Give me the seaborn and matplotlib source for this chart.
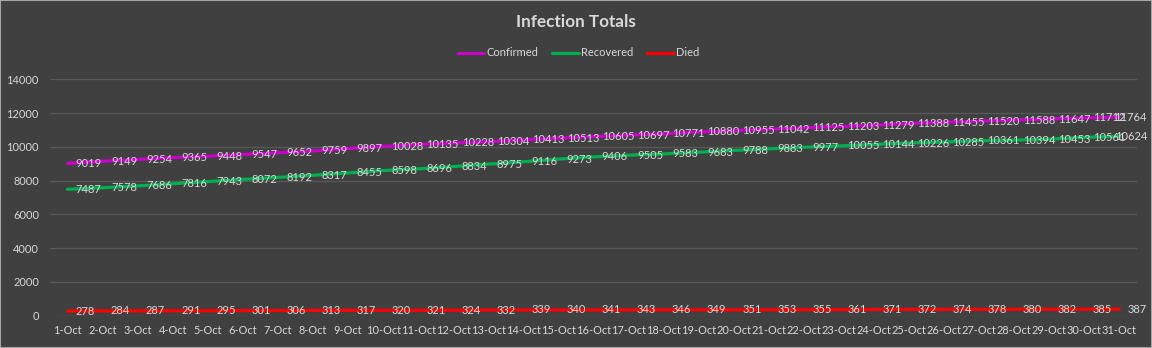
import numpy as np
import pandas as pd
import matplotlib
matplotlib.use("Agg")
import matplotlib.pyplot as plt
import matplotlib.transforms as mtransforms
import seaborn as sns
from matplotlib.lines import Line2D
from matplotlib.patches import Rectangle

days = [f"{d}-Oct" for d in range(1, 32)]
confirmed = [9019, 9149, 9254, 9365, 9448, 9547, 9652, 9759, 9897, 10028,
             10135, 10228, 10304, 10413, 10513, 10605, 10697, 10771, 10880, 10955,
             11042, 11125, 11203, 11279, 11388, 11455, 11520, 11588, 11647, 11712,
             11764]
recovered = [7487, 7578, 7686, 7816, 7943, 8072, 8192, 8317, 8455, 8598,
             8696, 8834, 8975, 9116, 9273, 9406, 9505, 9583, 9683, 9788,
             9883, 9977, 10055, 10144, 10226, 10285, 10361, 10394, 10453, 10561,
             10624]
died = [278, 284, 287, 291, 295, 301, 306, 313, 317, 320,
        321, 324, 332, 339, 340, 341, 343, 346, 349, 351,
        353, 355, 361, 371, 372, 374, 378, 380, 382, 385,
        387]
series_names = ["Confirmed", "Recovered", "Died"]
series_colors = ["#CC00CC", "#00B050", "#FF0000"]
yticks = [0, 2000, 4000, 6000, 8000, 10000, 12000, 14000]

bg = "#404040"
txt = "#D9D9D9"
grid = "#595959"
W, H = 1152, 348

sns.set_theme(style="dark")
plt.rcParams["font.family"] = ["Lato", "DejaVu Sans"]

frames = []
for name, vals in zip(series_names, [confirmed, recovered, died]):
    frames.append(pd.DataFrame({"pos": np.arange(len(days)), "day": days,
                                "value": vals, "series": name}))
df = pd.concat(frames, ignore_index=True)

fig = plt.figure(figsize=(W / 100, H / 100), dpi=100, facecolor=bg)
ax = fig.add_axes([50 / W, 1 - 315.7 / H, (1137 - 50) / W, (315.7 - 79.3) / H])
ax.set_facecolor(bg)

palette = dict(zip(series_names, series_colors))
sns.lineplot(data=df, x="pos", y="value", hue="series", palette=palette,
             hue_order=series_names, linewidth=2.3, ax=ax, legend=False)

# value labels to the right of each point; the last one is pulled back
# inside the chart's right edge
edge_tf = mtransforms.blended_transform_factory(fig.transFigure, ax.transData)
last = len(days) - 1
for name in series_names:
    sub = df[df["series"] == name]
    for x, y in zip(sub["pos"], sub["value"]):
        if x == last:
            ax.text(1147 / W, y, f"{y}", transform=edge_tf, ha="right",
                    va="center", fontsize=8, color=txt, clip_on=False)
        else:
            ax.annotate(f"{y}", (x, y), xytext=(6, 0), textcoords="offset points",
                        ha="left", va="center", fontsize=8, color=txt,
                        annotation_clip=False)

ax.set_xlim(-0.5, len(days) - 0.5)
ax.set_ylim(0, 14000)
ax.set_xticks(np.arange(len(days)))
ax.set_xticklabels(days)
ax.set_yticks(yticks)
ax.set_yticklabels([str(t) for t in yticks])
ax.tick_params(axis="both", length=0, colors=txt, labelsize=7.9)
ax.tick_params(axis="y", pad=8)
ax.tick_params(axis="x", pad=7)
ax.set_xlabel("")
ax.set_ylabel("")
ax.grid(False)
for t in yticks:
    ax.axhline(t, color=grid, linewidth=0.9, zorder=0)
for s in ax.spines.values():
    s.set_visible(False)

fig.text(0.5, 1 - 22 / H, "Infection Totals", ha="center", va="center",
         fontsize=12.3, fontweight="bold", color=txt)

handles = [Line2D([0], [0], color=c, linewidth=2.3) for c in series_colors]
fig.legend(handles, series_names, loc="center", ncol=3,
           bbox_to_anchor=(0.502, 1 - 53 / H), frameon=False,
           fontsize=8, handlelength=2.4, handletextpad=0.15,
           columnspacing=1.3, labelcolor=txt)

fig.patches.append(Rectangle((0, 0), 1, 1, transform=fig.transFigure,
                             fill=False, edgecolor="#A6A6A6", linewidth=1.5))

fig.savefig("out.png", dpi=100, facecolor=bg)
